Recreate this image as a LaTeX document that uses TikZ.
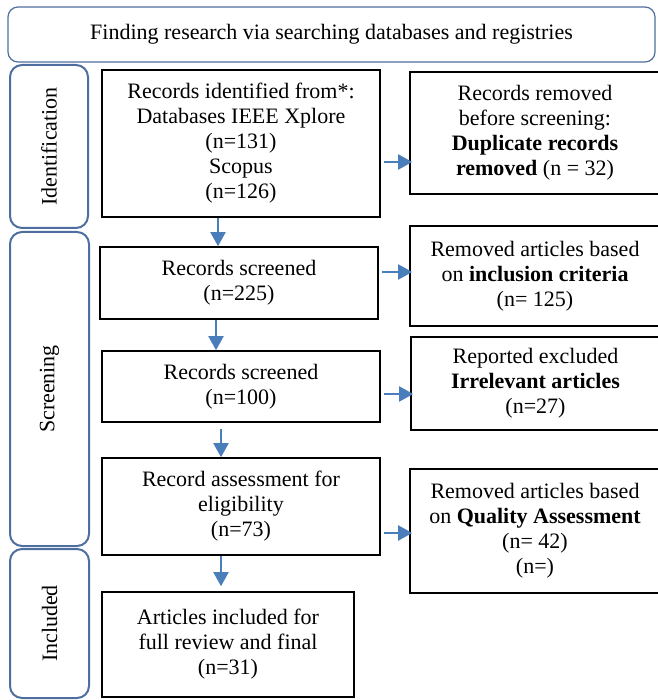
\documentclass[tikz,border=0pt]{standalone}
\usepackage{fontspec}
\setmainfont{Liberation Serif}
\usetikzlibrary{arrows.meta}
\definecolor{flowblue}{RGB}{74,126,187}
\definecolor{phaseblue}{RGB}{79,110,160}
\begin{document}
\begin{tikzpicture}[x=1pt,y=-1pt,
  every node/.style={font=\fontsize{22}{25}\selectfont, align=center, inner sep=0pt},
  box/.style={draw=black, line width=1.6pt, rectangle},
  phase/.style={draw=phaseblue, line width=2pt, rounded corners=12pt, rotate=90},
  flow/.style={draw=flowblue, line width=2pt, -{Triangle[length=14pt,width=15pt]}}]
\useasboundingbox (0,0) rectangle (657,700);

% header
\node[draw=phaseblue, line width=1.2pt, rounded corners=10pt,
      minimum width=647pt, minimum height=55pt] (top) at (331.5,34.5)
  {Finding research via searching databases and registries};

% phase labels
\node[phase, minimum width=163pt, minimum height=78pt] (ph1) at (49,146.5) {Identification};
\node[phase, minimum width=314pt, minimum height=79pt] (ph2) at (49.5,389) {Screening};
\node[phase, minimum width=149pt, minimum height=79pt] (ph3) at (49.5,623.5) {Included};

% main column
\node[box, minimum width=278pt, minimum height=147pt] (id) at (241,143.5)
  {Records identified from*:\\Databases IEEE Xplore\\(n=131)\\Scopus\\(n=126)};
\node[box, minimum width=278pt, minimum height=72pt] (s1) at (239,283)
  {Records screened\\(n=225)};
\node[box, minimum width=278pt, minimum height=71pt] (s2) at (241,386.5)
  {Records screened\\(n=100)};
\node[box, minimum width=278pt, minimum height=97pt] (s3) at (241,506.5)
  {Record assessment for\\eligibility\\(n=73)};
\node[box, minimum width=252pt, minimum height=105pt] (s4) at (228,644.5)
  {Articles included for\\full review and final\\(n=31)};

% exclusion column
\node[box, minimum width=250pt, minimum height=122pt] (rm) at (535,133)
  {Records removed\\before screening:\\\textbf{Duplicate records}\\\textbf{removed} (n = 32)};
\node[box, minimum width=250pt, minimum height=100pt] (ex1) at (535,276)
  {Removed articles based\\on \textbf{inclusion criteria}\\(n= 125)};
\node[box, minimum width=249pt, minimum height=93pt] (ex2) at (535.5,383.5)
  {Reported excluded\\\textbf{Irrelevant articles}\\(n=27)};
\node[box, minimum width=250pt, minimum height=124pt] (ex3) at (535,531)
  {Removed articles based\\on \textbf{Quality Assessment}\\(n= 42)\\(n=)};

% downward flow
\draw[flow] (id.south -| 218,0) -- (s1.north -| 218,0);
\draw[flow] (s1.south -| 216,0) -- (s2.north -| 216,0);
\draw[flow, shorten <=6pt] (s2.south -| 221,0) -- (s3.north -| 221,0);
\draw[flow, shorten >=5pt] (s3.south -| 221,0) -- (s4.north -| 221,0);

% exclusions
\draw[flow, shorten <=3pt, shorten >=-3pt] (id.east |- 0,162) -- (rm.west |- 0,162);
\draw[flow, shorten <=3pt, shorten >=-3pt] (s1.east |- 0,272) -- (ex1.west |- 0,272);
\draw[flow, shorten <=3pt, shorten >=-3pt] (s2.east |- 0,394) -- (ex2.west |- 0,394);
\draw[flow, shorten <=3pt, shorten >=-3pt] (s3.east |- 0,533) -- (ex3.west |- 0,533);
\end{tikzpicture}
\end{document}
